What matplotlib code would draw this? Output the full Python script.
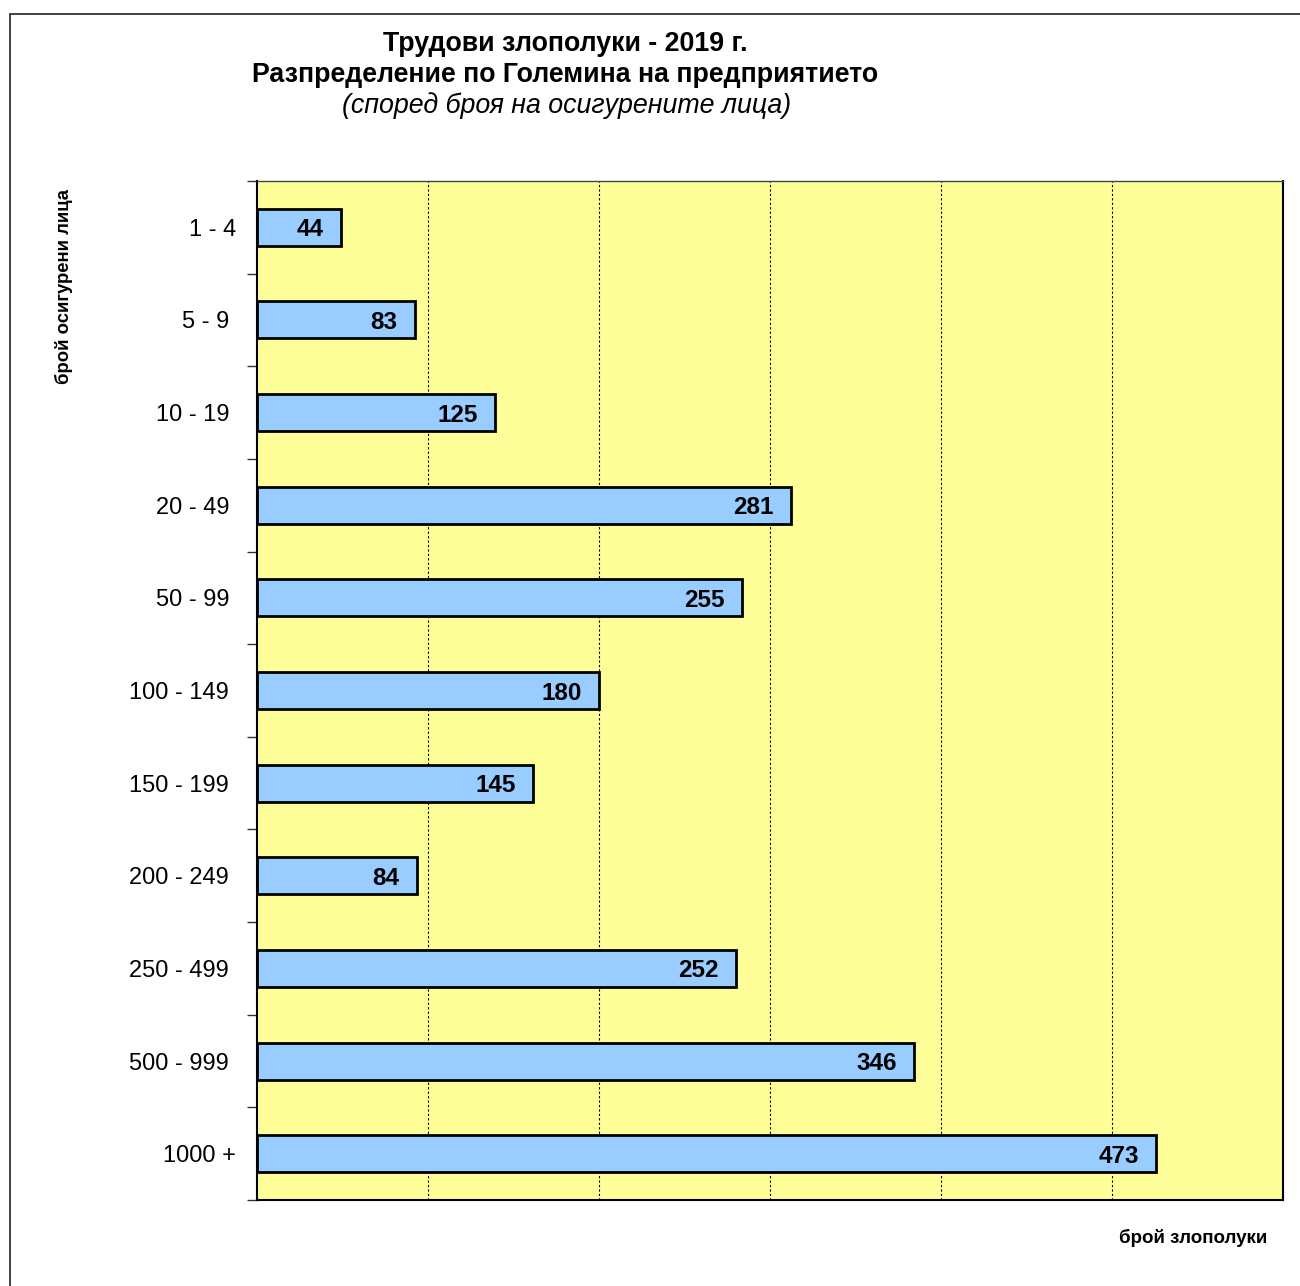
import matplotlib
matplotlib.use("Agg")
import matplotlib.pyplot as plt
from matplotlib.patches import Rectangle
from matplotlib.transforms import ScaledTranslation
import numpy as np

plt.rcParams['font.family'] = ['Liberation Sans', 'DejaVu Sans']

categories = ["1 - 4", "5 - 9", "10 - 19", "20 - 49", "50 - 99", "100 - 149",
              "150 - 199", "200 - 249", "250 - 499", "500 - 999", "1000 +"]
values = [44, 83, 125, 281, 255, 180, 145, 84, 252, 346, 473]
title_lines = ["Трудови злополуки - 2019 г.",
               "Разпределение по Големина на предприятието",
               "(според броя на осигурените лица)"]
xlabel = "брой злополуки"
ylabel = "брой осигурени лица"

W, H = 1300, 1286
fig = plt.figure(figsize=(W / 100, H / 100), dpi=100)
fig.patch.set_facecolor("white")

# outer chart frame
fig.add_artist(Rectangle((10 / W, -0.1), 2.0, (H - 14) / H + 0.1,
                         transform=fig.transFigure, fill=False,
                         edgecolor="#333333", lw=1.3))

ax = fig.add_axes([257 / W, 1 - 1200 / H, (1283 - 257) / W, (1200 - 181) / H])
ax.set_facecolor("#FFFF99")

y = np.arange(len(categories))
ax.barh(y, values, height=0.4, color="#99CCFF", edgecolor="black", linewidth=2, zorder=3)

ax.set_xlim(0, 540)
ax.set_ylim(len(categories) - 0.5, -0.5)
ax.set_xticks(np.arange(90, 540, 90))
ax.tick_params(axis="x", length=0, labelbottom=False)
ax.grid(axis="x", color="black", linestyle=(0, (2, 2)), linewidth=0.8, zorder=1)

ax.set_yticks(y)
ax.set_yticklabels(categories, fontsize=17)
ax.tick_params(axis="y", which="major", length=0, pad=15)
ax.set_yticks(np.arange(-0.5, len(categories), 1), minor=True)
ax.tick_params(axis="y", which="minor", length=7, width=1, color="#333333", direction="out")

for lab in ax.get_yticklabels():
    if lab.get_text() not in ("1 - 4", "1000 +"):
        lab.set_transform(lab.get_transform() + ScaledTranslation(-7 / 100, 0, fig.dpi_scale_trans))

for s in ["left", "right", "bottom"]:
    ax.spines[s].set_color("black")
    ax.spines[s].set_linewidth(1.5)
ax.spines["top"].set_color("#444444")
ax.spines["top"].set_linewidth(1.0)

for yi, v in zip(y, values):
    ax.annotate(str(v), xy=(v, yi), xytext=(-17, 0), textcoords="offset pixels",
                ha="right", va="center_baseline", fontsize=17.5, fontweight="bold", zorder=4)

fig.text(565 / W, 1 - 44 / H, title_lines[0], ha="center", va="center",
         fontsize=19.3, fontweight="bold")
fig.text(565 / W, 1 - 75 / H, title_lines[1], ha="center", va="center",
         fontsize=19.3, fontweight="bold")
fig.text(567 / W, 1 - 106 / H, title_lines[2], ha="center", va="center",
         fontsize=19.3, fontstyle="italic")

fig.text(1193 / W, 1 - 1238 / H, xlabel, ha="center", va="center",
         fontsize=13.5, fontweight="bold")
fig.text(64 / W, 1 - 286 / H, ylabel, ha="center", va="center",
         fontsize=13.3, fontweight="bold", rotation=90)

fig.savefig("out.png", dpi=100)
